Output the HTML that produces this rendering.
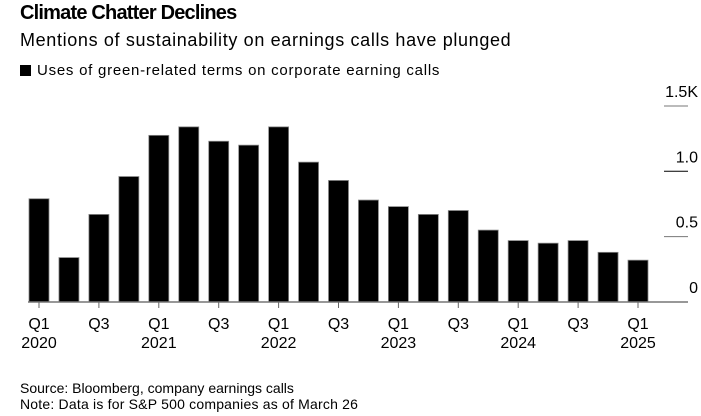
<!DOCTYPE html>
<html><head><meta charset="utf-8"><style>
body{margin:0;background:#fff;width:701px;height:416px;overflow:hidden;font-family:"Liberation Sans",sans-serif;color:#000}
.t{position:absolute;white-space:nowrap;line-height:1}
</style></head><body>
<div class="t" style="left:20px;top:3px;font-size:20px;font-weight:bold;letter-spacing:-0.8px">Climate Chatter Declines</div>
<div class="t" style="left:20px;top:31px;font-size:18px;letter-spacing:0.65px">Mentions of sustainability on earnings calls have plunged</div>
<div class="t" style="left:20px;top:63px;font-size:15px;letter-spacing:0.75px"><span style="display:inline-block;width:11px;height:11px;background:#000;margin-right:6px;vertical-align:-1px"></span>Uses of green-related terms on corporate earning calls</div>
<svg id="c" width="701" height="416" style="position:absolute;left:0;top:0"></svg>
<div class="t" style="left:20px;top:381px;font-size:14px">Source: Bloomberg, company earnings calls</div>
<div class="t" style="left:20px;top:397px;font-size:14px;letter-spacing:0.2px">Note: Data is for S&amp;P 500 companies as of March 26</div>
<script>
const quarters=["Q1 2020","Q2 2020","Q3 2020","Q4 2020","Q1 2021","Q2 2021","Q3 2021","Q4 2021","Q1 2022","Q2 2022","Q3 2022","Q4 2022","Q1 2023","Q2 2023","Q3 2023","Q4 2023","Q1 2024","Q2 2024","Q3 2024","Q4 2024","Q1 2025"];
const mentions=[0.79,0.34,0.67,0.96,1.275,1.34,1.23,1.20,1.34,1.07,0.93,0.78,0.73,0.67,0.70,0.55,0.47,0.45,0.47,0.38,0.32];
const yTicks=[0,0.5,1.0,1.5];
const yTickLabels=["0","0.5","1.0","1.5K"];
const NS="http://www.w3.org/2000/svg",svg=document.getElementById('c');
const y=v=>302-v*130.7, x=i=>39+i*29.95;
function mk(t,a){const e=document.createElementNS(NS,t);for(const k in a)e.setAttribute(k,a[k]);svg.appendChild(e);return e;}
yTicks.forEach((v,i)=>{
 if(v>0){const g=mk('line',{x1:664,x2:688,y1:y(v),y2:y(v),stroke:v==1?'#000':'#777','stroke-width':1});
 
 }
 const t=mk('text',{x:698,y:y(v)-9,'text-anchor':'end','font-size':16,'font-family':'Liberation Sans'});
 t.textContent=yTickLabels[i];
 
 
});
mentions.forEach((v,i)=>{
 const r=mk('rect',{x:x(i)-10,y:y(v),width:20,height:302-y(v),fill:'#000',stroke:'#888','stroke-width':0.8});
 
 
});
const ax=mk('line',{x1:28,x2:688,y1:302,y2:302,stroke:'#777','stroke-width':1.5});


quarters.forEach((q,i)=>{
 if(i%2)return;
 const tk=mk('line',{x1:x(i),x2:x(i),y1:302,y2:308,stroke:'#666','stroke-width':1});
 
 
 const [qq,yr]=q.split(' ');
 const t=mk('text',{x:x(i),y:329,'text-anchor':'middle','font-size':16,'font-family':'Liberation Sans'});
 t.textContent=qq;
 
 
 if(qq=='Q1'){const t2=mk('text',{x:x(i),y:348,'text-anchor':'middle','font-size':16,'font-family':'Liberation Sans'});
 t2.textContent=yr;
 
 }
});
</script>
</body></html>
